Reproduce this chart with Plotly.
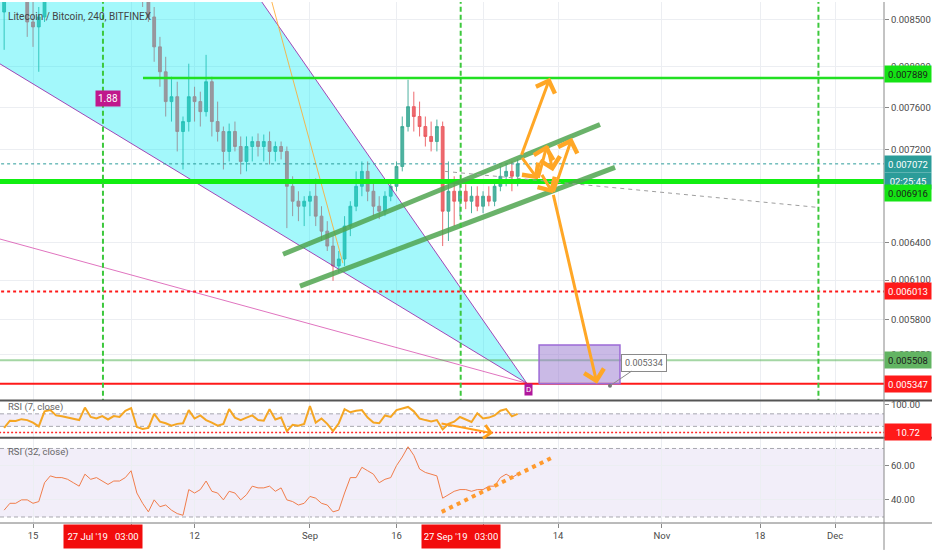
import math
import pandas as pd
import plotly.graph_objects as go
from plotly.subplots import make_subplots

# ---------------- data ----------------
dates = pd.date_range("2019-07-10", periods=90, freq="D")

opens = [0.008579, 0.008744, 0.008969, 0.009026, 0.008800, 0.008471, 0.008418, 0.008525, 0.008912, 0.009257,
         0.009495, 0.009376, 0.009615, 0.009739, 0.009555, 0.009677, 0.009495, 0.009376, 0.009435, 0.009316,
         0.009199, 0.009257, 0.009141, 0.009026, 0.008912, 0.008800, 0.008525, 0.008207, 0.007951, 0.007655,
         0.007703, 0.007369, 0.007463, 0.007703, 0.007655, 0.007558, 0.007851, 0.007463, 0.007369, 0.007185,
         0.007369, 0.007230, 0.007094, 0.007230, 0.007276, 0.007230, 0.007276, 0.007185, 0.007230, 0.007185,
         0.006873, 0.006744, 0.006701, 0.006744, 0.006787, 0.006617, 0.006492, 0.006370, 0.006211, 0.006266,
         0.006534, 0.006701, 0.006873, 0.007005, 0.006830, 0.006701, 0.006659, 0.006787, 0.006873, 0.007049,
         0.007416, 0.007606, 0.007511, 0.007416, 0.007323, 0.007276, 0.007416, 0.006659, 0.006830, 0.006744,
         0.006830, 0.006744, 0.006787, 0.006701, 0.006787, 0.006744, 0.006873, 0.006961, 0.007005, 0.006961]

highs = [0.008800, 0.009026, 0.009141, 0.009084, 0.008912, 0.008689, 0.008634, 0.009026, 0.009376, 0.009615,
         0.009615, 0.009739, 0.009863, 0.009801, 0.009801, 0.009739, 0.009615, 0.009555, 0.009495, 0.009376,
         0.009376, 0.009316, 0.009257, 0.009141, 0.009026, 0.008856, 0.008634, 0.008312, 0.008104, 0.007901,
         0.007851, 0.007511, 0.008033, 0.007801, 0.007752, 0.008124, 0.007901, 0.007655, 0.007416, 0.007444,
         0.007463, 0.007323, 0.007323, 0.007323, 0.007351, 0.007341, 0.007369, 0.007276, 0.007276, 0.007230,
         0.006961, 0.006830, 0.006787, 0.006830, 0.006943, 0.006701, 0.006575, 0.006451, 0.006330, 0.006617,
         0.006744, 0.007005, 0.007094, 0.007094, 0.006917, 0.006787, 0.006830, 0.006917, 0.007094, 0.007511,
         0.007871, 0.007752, 0.007655, 0.007511, 0.007463, 0.007482, 0.007463, 0.007094, 0.006961, 0.006917,
         0.006891, 0.006873, 0.006873, 0.006830, 0.006873, 0.006934, 0.007049, 0.007067, 0.007094, 0.007112]

lows = [0.008176, 0.008722, 0.008856, 0.008744, 0.008312, 0.008207, 0.007951, 0.008471, 0.008856, 0.009141,
        0.009257, 0.009316, 0.009495, 0.009435, 0.009495, 0.009376, 0.009257, 0.009257, 0.009141, 0.009084,
        0.009141, 0.009026, 0.008912, 0.008800, 0.008634, 0.008471, 0.008053, 0.007801, 0.007511, 0.007463,
        0.007185, 0.007022, 0.007369, 0.007463, 0.007416, 0.007511, 0.007323, 0.007276, 0.007022, 0.007094,
        0.007185, 0.006979, 0.007005, 0.007094, 0.007139, 0.007094, 0.007067, 0.007094, 0.007112, 0.006517,
        0.006617, 0.006575, 0.006534, 0.006617, 0.006534, 0.006411, 0.006330, 0.006094, 0.006156, 0.006211,
        0.006451, 0.006659, 0.006787, 0.006744, 0.006617, 0.006592, 0.006617, 0.006744, 0.006830, 0.007005,
        0.007369, 0.007369, 0.007323, 0.007230, 0.007185, 0.007185, 0.006370, 0.006411, 0.006534, 0.006617,
        0.006676, 0.006642, 0.006659, 0.006642, 0.006701, 0.006701, 0.006830, 0.006873, 0.006830, 0.006873]

closes = [0.008744, 0.008969, 0.009026, 0.008800, 0.008471, 0.008418, 0.008525, 0.008912, 0.009257, 0.009495,
          0.009376, 0.009615, 0.009739, 0.009555, 0.009677, 0.009495, 0.009376, 0.009435, 0.009316, 0.009199,
          0.009257, 0.009141, 0.009026, 0.008912, 0.008800, 0.008525, 0.008207, 0.007951, 0.007655, 0.007703,
          0.007369, 0.007463, 0.007703, 0.007655, 0.007558, 0.007851, 0.007463, 0.007369, 0.007185, 0.007369,
          0.007230, 0.007094, 0.007230, 0.007276, 0.007230, 0.007276, 0.007185, 0.007230, 0.007185, 0.006873,
          0.006744, 0.006701, 0.006744, 0.006787, 0.006617, 0.006492, 0.006370, 0.006211, 0.006266, 0.006534,
          0.006701, 0.006873, 0.007005, 0.006830, 0.006701, 0.006659, 0.006787, 0.006873, 0.007049, 0.007416,
          0.007606, 0.007511, 0.007416, 0.007323, 0.007276, 0.007416, 0.006659, 0.006830, 0.006744, 0.006830,
          0.006744, 0.006787, 0.006701, 0.006787, 0.006744, 0.006873, 0.006961, 0.007005, 0.006961, 0.007072]

rsi7 = [25, 48, 47, 53, 50, 42, 30, 78, 82, 65,
        62, 58, 52, 50, 90, 60, 55, 63, 52, 63,
        60, 80, 88, 28, 22, 25, 70, 45, 40, 32,
        38, 40, 82, 55, 65, 50, 42, 32, 38, 85,
        58, 50, 58, 65, 50, 48, 85, 52, 58, 15,
        35, 32, 38, 95, 42, 55, 38, 15, 40, 85,
        75, 80, 82, 58, 42, 40, 65, 60, 82, 88,
        92, 78, 55, 50, 46, 50, 20, 38, 45, 60,
        53, 44, 72, 55, 58, 65, 80, 85, 62, 70]

rsi32 = [34, 38, 38, 40, 40, 38, 39, 50, 54, 53,
         53, 52, 50, 48, 55, 52, 53, 51, 49, 51,
         51, 53, 57, 44, 38, 33, 40, 36, 37, 34,
         32, 31, 46, 44, 46, 51, 45, 44, 40, 45,
         44, 40, 43, 48, 47, 47, 48, 45, 47, 40,
         39, 37, 38, 42, 41, 38, 37, 33, 34, 44,
         53, 53, 59, 57, 55, 50, 52, 53, 60, 65,
         71, 66, 58, 56, 55, 54, 41, 43, 45, 46,
         46, 45, 46, 46, 48, 48, 53, 55, 53, 55]

x_range = ["2019-07-09 06:45", "2019-12-09 11:45"]
x_tickvals = ["2019-07-15", "2019-08-01", "2019-08-12", "2019-09-01", "2019-09-16",
              "2019-10-01", "2019-10-14", "2019-11-01", "2019-11-18", "2019-12-01"]
x_ticktext = ["15", "", "12", "Sep", "16", "", "14", "Nov", "18", "Dec"]

price_range = [0.005234, 0.008689]
price_tickvals = [0.0085, 0.0080, 0.0076, 0.0072, 0.0064, 0.0061, 0.0058, 0.00555]
price_ticktext = ["0.008500", "0.008000", "0.007600", "0.007200", "0.006400", "0.006100", "0.005800", "0.005550"]

far_left, far_right = "2019-06-01", "2019-12-31"

# horizontal levels
level_top = 0.007889
level_top_start = "2019-08-03 01:30"
level_current = 0.007072
level_support = 0.006916
level_red_dotted = 0.006013
level_light_green = 0.005508
level_red = 0.005347

# drawings (date, price)
wedge_x = ["2019-06-04 14:00", "2019-10-08 14:00", "2019-08-12 22:00"]
wedge_y = [0.009372, 0.005350, 0.009733]
pink_x = ["2019-06-30 15:00", "2019-10-08 14:00"]
pink_y = [0.006540, 0.005350]
thin_orange_x = ["2019-08-23 17:00", "2019-09-06 17:00"]
thin_orange_y = [0.009094, 0.006233]
chan_up_x = ["2019-08-27 08:00", "2019-10-21 06:30"]
chan_up_y = [0.006304, 0.007435]
chan_lo_x = ["2019-08-30 06:30", "2019-10-23 21:00"]
chan_lo_y = [0.006054, 0.007040]
gray_dash_x = ["2019-09-24 10:00", "2019-11-28 01:00"]
gray_dash_y = [0.007005, 0.006691]
vline_dates = ["2019-07-27 03:00", "2019-09-27 03:00", "2019-11-28 03:00"]
target_box_x = ["2019-10-10 17:00", "2019-10-24 17:30"]
target_box_y = [0.005347, 0.005617]
callout_x, callout_y = "2019-10-23 00:00", 0.005333

arrows = [  # tail date, tail price, head date, head price
    ("2019-10-07 14:00", 0.007140, "2019-10-12 14:30", 0.007891),
    ("2019-10-07 14:00", 0.007140, "2019-10-10 12:30", 0.006934),
    ("2019-10-10 12:30", 0.006934, "2019-10-12 02:00", 0.007246),
    ("2019-10-12 02:00", 0.007246, "2019-10-13 03:00", 0.007005),
    ("2019-10-11 01:00", 0.006987, "2019-10-13 03:00", 0.006812),
    ("2019-10-13 03:00", 0.006812, "2019-10-16 10:00", 0.007311),
    ("2019-10-13 03:00", 0.006812, "2019-10-20 18:00", 0.005347),
]
rsi7_arrow = ("2019-09-23 13:00", 40, "2019-10-02 17:00", 8)
rsi7_level = 10.72
rsi32_trend_x = ["2019-09-23 20:00", "2019-10-12 21:00"]
rsi32_trend_y = [33, 64.5]

# ---------------- figure ----------------
FONT = "Roboto, Liberation Sans, sans-serif"
fig = make_subplots(rows=3, cols=1, shared_xaxes=True, vertical_spacing=0,
                    row_heights=[400, 37, 86])

def line(x, y, color, width=1, dash=None, row=1, fill=None, fillcolor=None):
    fig.add_trace(go.Scatter(x=x, y=y, mode="lines", line=dict(color=color, width=width, dash=dash),
                             fill=fill, fillcolor=fillcolor, hoverinfo="skip", showlegend=False),
                  row=row, col=1)

# wedge fill
line(wedge_x + [wedge_x[0]], wedge_y + [wedge_y[0]], "rgba(0,0,0,0)", 0,
     fill="toself", fillcolor="rgba(0,236,245,0.36)")
line(pink_x, pink_y, "rgba(214,70,170,0.75)", 1)
line([wedge_x[0], wedge_x[1]], [wedge_y[0], wedge_y[1]], "rgba(150,40,170,0.85)", 1)
line([wedge_x[2], wedge_x[1]], [wedge_y[2], wedge_y[1]], "rgba(150,40,170,0.85)", 1)
line(thin_orange_x, thin_orange_y, "rgba(255,170,50,0.85)", 1)

# candles
fig.add_trace(go.Candlestick(x=dates, open=opens, high=highs, low=lows, close=closes,
                             increasing=dict(line=dict(color="rgba(60,170,150,0.9)", width=1),
                                             fillcolor="rgba(60,170,150,0.9)"),
                             decreasing=dict(line=dict(color="rgba(235,90,95,0.9)", width=1),
                                             fillcolor="rgba(235,90,95,0.9)"),
                             whiskerwidth=0, hoverinfo="skip", showlegend=False), row=1, col=1)

# horizontal levels
line([level_top_start, far_right], [level_top] * 2, "#22e022", 2.5)
line([far_left, far_right], [level_current] * 2, "#2b9c99", 1, dash="dot")
line([far_left, far_right], [level_support] * 2, "#11ee11", 5)
line([far_left, far_right], [level_red_dotted] * 2, "#ff1a1a", 2, dash="dot")
line([far_left, far_right], [level_light_green] * 2, "rgba(90,180,90,0.55)", 2)
line([far_left, far_right], [level_red] * 2, "#ff1a1a", 2)

# channel
line(chan_up_x, chan_up_y, "rgba(80,165,80,0.85)", 5)
line(chan_lo_x, chan_lo_y, "rgba(80,165,80,0.85)", 5)
line(gray_dash_x, gray_dash_y, "#9e9e9e", 1, dash="4px,4px")

# vertical dashed lines
for d in vline_dates:
    line([d, d], [0.004, 0.011], "#3cc83c", 2, dash="5px,3px")

# target box
line([target_box_x[0], target_box_x[1], target_box_x[1], target_box_x[0], target_box_x[0]],
     [target_box_y[0], target_box_y[0], target_box_y[1], target_box_y[1], target_box_y[0]],
     "#9c6ad6", 1.5, fill="toself", fillcolor="rgba(149,117,205,0.5)")
fig.add_trace(go.Scatter(x=[callout_x], y=[callout_y], mode="markers",
                         marker=dict(color="#777", size=4), hoverinfo="skip", showlegend=False), row=1, col=1)

# RSI panes
fig.add_trace(go.Scatter(x=dates, y=rsi7, mode="lines", line=dict(color="#f5a623", width=2),
                         hoverinfo="skip", showlegend=False), row=2, col=1)
line([far_left, far_right], [rsi7_level] * 2, "#ff2a2a", 1.5, dash="2px,2px", row=2)
fig.add_trace(go.Scatter(x=dates, y=rsi32, mode="lines", line=dict(color="#f07d4b", width=1),
                         hoverinfo="skip", showlegend=False), row=3, col=1)
line(rsi32_trend_x, rsi32_trend_y, "#ff9a2e", 4, dash="4px,4.4px", row=3)

# RSI bands and dashed levels
for r in (2, 3):
    fig.add_shape(type="rect", xref=f"x{r} domain", yref=f"y{r}", x0=0, x1=1, y0=30, y1=70,
                  fillcolor="rgba(149,117,205,0.12)", line=dict(width=0), layer="below")
    for lv in (30, 70):
        fig.add_shape(type="line", xref=f"x{r} domain", yref=f"y{r}", x0=0, x1=1, y0=lv, y1=lv,
                      line=dict(color="#a8a8b0", width=1, dash="4px,3px"), layer="below")

# separators & frame
W = 932 / 884
for yp in (123 / 523, 85.5 / 523):
    fig.add_shape(type="line", xref="paper", yref="paper", x0=0, x1=W, y0=yp, y1=yp,
                  line=dict(color="#555", width=2))
fig.add_shape(type="line", xref="paper", yref="paper", x0=0, x1=W, y0=0, y1=0,
              line=dict(color="#777", width=1))
fig.add_shape(type="line", xref="paper", yref="paper", x0=1, x1=1, y0=-27 / 523, y1=1,
              line=dict(color="#888", width=1))

ann = []
for td, tp, hd, hp in arrows:
    ann.append(dict(x=hd, y=math.log10(hp), ax=td, ay=math.log10(tp), xref="x", yref="y",
                    axref="x", ayref="y", showarrow=True, arrowhead=4, arrowsize=1.3,
                    arrowwidth=3, arrowcolor="#ffa726", text="", standoff=0))
ann.append(dict(x=rsi7_arrow[2], y=rsi7_arrow[3], ax=rsi7_arrow[0], ay=rsi7_arrow[1],
                xref="x2", yref="y2", axref="x2", ayref="y2", showarrow=True, arrowhead=4,
                arrowsize=1.3, arrowwidth=2, arrowcolor="#ff9f1c", text="", standoff=0))

# text labels
ann.append(dict(x=6 / 884, y=(523 - 15) / 523, xref="paper", yref="paper", xanchor="left",
                yanchor="middle", showarrow=False, text="Litecoin / Bitcoin, 240, BITFINEX",
                font=dict(size=10, color="#444", family=FONT)))
ann.append(dict(x=6 / 884, y=(523 - 407) / 523, xref="paper", yref="paper", xanchor="left",
                yanchor="middle", showarrow=False, text="RSI (7, close)",
                font=dict(size=9.5, color="#666", family=FONT)))
ann.append(dict(x=6 / 884, y=(523 - 452) / 523, xref="paper", yref="paper", xanchor="left",
                yanchor="middle", showarrow=False, text="RSI (32, close)",
                font=dict(size=9.5, color="#666", family=FONT)))
ann.append(dict(x="2019-07-28 00:00", y=math.log10(0.007684), xref="x", yref="y", showarrow=False,
                text="1.88", bgcolor="#c0188c", font=dict(size=10, color="white", family=FONT),
                borderpad=2))
ann.append(dict(x="2019-10-08 23:00", y=(523 - 396) / 523, xref="x", yref="paper", showarrow=False,
                text="D", bgcolor="#b0179c", font=dict(size=8, color="white", family=FONT),
                borderpad=1))
ann.append(dict(x=callout_x, y=math.log10(callout_y), xref="x", yref="y", ax=34, ay=-23,
                showarrow=True, arrowhead=0, arrowwidth=1, arrowcolor="#8a8a8a", text="0.005334",
                bgcolor="white", bordercolor="#8a8a8a", borderwidth=1, borderpad=3,
                font=dict(size=9, color="#666", family=FONT)))

# right-side price tags
def tag(yval, text, bg, fg, yref="y", shift=0):
    ann.append(dict(x=1, y=yval, xref="paper", yref=yref, xanchor="left", yanchor="middle",
                    showarrow=False, text=text, bgcolor=bg, width=44, height=14, borderpad=1,
                    yshift=shift, font=dict(size=9.5, color=fg, family=FONT)))

tag(math.log10(level_top), "0.007889", "#14e314", "#1b1b1b", shift=4)
tag(math.log10(level_current), "0.007072", "#2b9c99", "white")
tag(math.log10(level_support), "02:25:45", "#2b9c99", "white")
tag(math.log10(level_support), "0.006916", "#14e314", "#1b1b1b", shift=-12)
tag(math.log10(level_red_dotted), "0.006013", "#ff1a1a", "white")
tag(math.log10(level_light_green), "0.005508", "#62b462", "#1b1b1b")
tag(math.log10(level_red), "0.005347", "#ff1a1a", "white")
tag(rsi7_level, "10.72", "#ff1a1a", "white", yref="y2")

# red time labels
for d, t in (("2019-07-27 03:00", "27 Jul '19   03:00"), ("2019-09-27 03:00", "27 Sep '19   03:00")):
    ann.append(dict(x=d, y=-14 / 523, xref="x3", yref="paper", yanchor="middle", showarrow=False,
                    text=t, bgcolor="#f20c0c", width=74, height=19, borderpad=2,
                    font=dict(size=9.5, color="white", family=FONT)))

fig.update_layout(width=932, height=550, margin=dict(l=0, r=48, t=0, b=27),
                  plot_bgcolor="white", paper_bgcolor="white", showlegend=False,
                  font=dict(family=FONT, size=9.5, color="#4a4a4a"), annotations=ann,
                  hovermode=False)

grid = "#eceef2"
for r in (1, 2, 3):
    fig.update_xaxes(row=r, col=1, range=x_range, type="date", tickvals=x_tickvals, ticktext=x_ticktext,
                     showgrid=True, gridcolor=grid, zeroline=False, rangeslider=dict(visible=False),
                     showticklabels=(r == 3), ticks="outside" if r == 3 else "", ticklen=4,
                     tickcolor="#888", tickfont=dict(size=9.5, color="#4a4a4a"))

fig.update_yaxes(row=1, col=1, type="log", range=[math.log10(price_range[0]), math.log10(price_range[1])],
                 side="right", tickvals=price_tickvals, ticktext=price_ticktext, showgrid=True,
                 gridcolor=grid, ticks="outside", ticklen=4, tickcolor="#888", zeroline=False,
                 tickfont=dict(size=9.5, color="#4a4a4a"))
fig.update_yaxes(row=2, col=1, range=[-5, 112.7], side="right", tickvals=[100], ticktext=["100.00"],
                 showgrid=False, ticks="outside", ticklen=4, tickcolor="#888", zeroline=False,
                 tickfont=dict(size=9.5, color="#4a4a4a"))
fig.update_yaxes(row=3, col=1, range=[26.5, 76.5], side="right", tickvals=[40, 60],
                 ticktext=["40.00", "60.00"], showgrid=True, gridcolor=grid, ticks="outside",
                 ticklen=4, tickcolor="#888", zeroline=False, tickfont=dict(size=9.5, color="#4a4a4a"))

fig.write_html("out.html", config={"displayModeBar": False},
               post_script="document.body.style.margin='0';document.body.style.overflow='hidden';")
